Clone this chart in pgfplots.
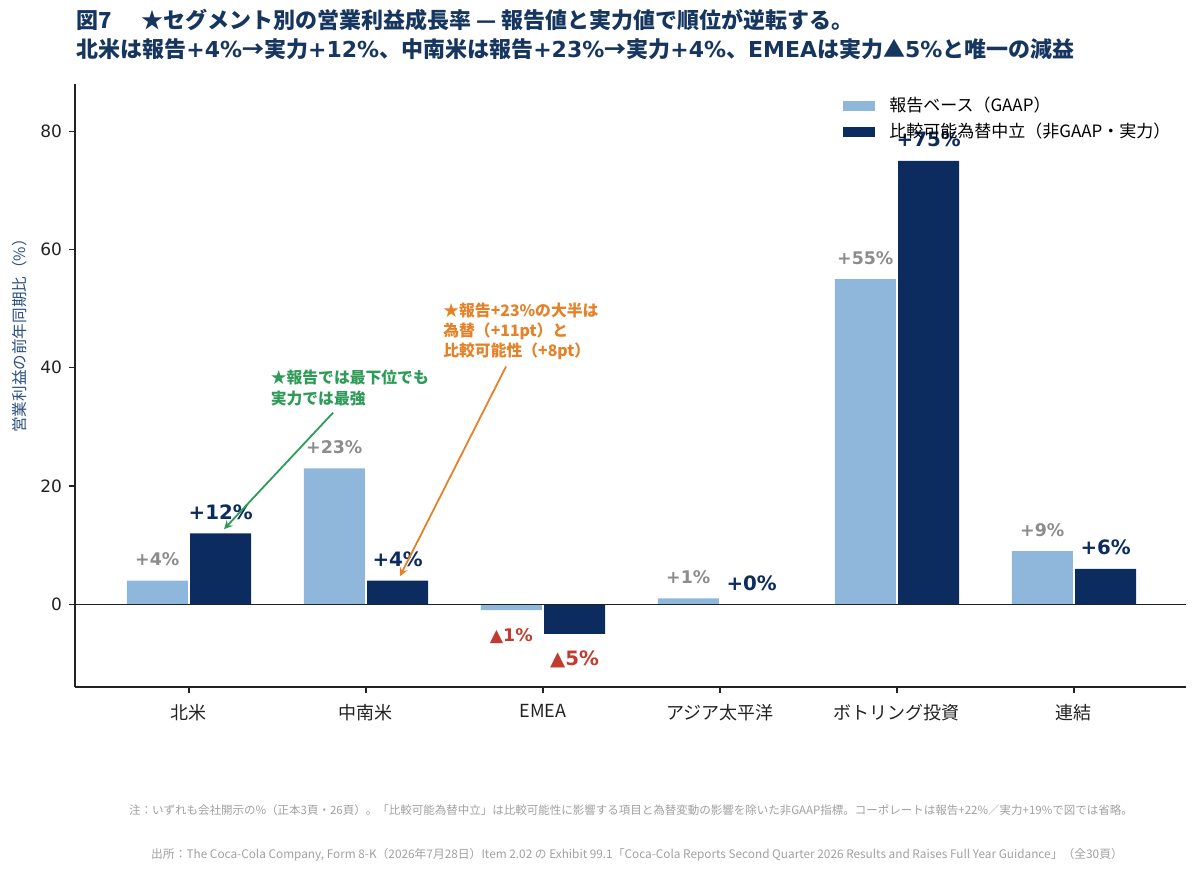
\documentclass[border=0pt]{standalone}
\usepackage{fontspec}
\setmainfont{Noto Sans CJK JP}
\newfontfamily\lat{DejaVu Sans}
\usepackage{pgfplots}
\pgfplotsset{compat=1.18}
\definecolor{lightb}{HTML}{8FB7DB}
\definecolor{darkb}{HTML}{0C2B5E}
\definecolor{grayc}{HTML}{8C8C8C}
\definecolor{titlec}{HTML}{16365F}
\definecolor{ylabc}{HTML}{2A4D7F}
\definecolor{greenc}{HTML}{2E9B58}
\definecolor{orangec}{HTML}{E4822A}
\definecolor{redc}{HTML}{C23B2E}
\definecolor{notec}{HTML}{A0A0A0}
\definecolor{axisc}{HTML}{222222}
\begin{document}
\begin{tikzpicture}
\useasboundingbox (0,0) rectangle (600pt,436.5pt);
\tikzset{
  lbgray/.style={font=\lat\bfseries\fontsize{8.7}{10}\selectfont, text=grayc, yshift=10.5pt},
  lbnavy/.style={font=\lat\bfseries\fontsize{9.9}{11}\selectfont, text=darkb, yshift=10.5pt},
  lbred1/.style={font=\lat\bfseries\fontsize{8.7}{10}\selectfont, text=redc, yshift=-13pt},
  lbred2/.style={font=\lat\bfseries\fontsize{9.9}{11}\selectfont, text=redc, yshift=-13pt},
}
\begin{axis}[
  at={(37.5pt,93pt)}, anchor=south west,
  scale only axis, width=555.5pt, height=301.5pt,
  xmin=-0.644, xmax=5.633, ymin=-14, ymax=88,
  axis x line*=bottom, axis y line*=left,
  axis line style={-, line width=0.75pt, color=axisc},
  tick align=outside, major tick length=3pt,
  tick style={line width=0.6pt, color=axisc},
  xtick={0,1,2,3,4,5},
  xticklabels={北米,中南米,EMEA,アジア太平洋,ボトリング投資,連結},
  xticklabel style={font=\fontsize{9}{10}\selectfont, text=axisc, yshift=-2pt},
  ytick={0,20,40,60,80},
  yticklabel style={font=\lat\fontsize{8.5}{10}\selectfont, text=axisc},
  /pgf/number format/assume math mode=true,
  legend style={at={(0.6913,0.985)}, anchor=north west, draw=none, fill=none,
    inner sep=0pt, row sep=0pt, font=\fontsize{8.5}{10}\selectfont},
  legend cell align=left,
  clip=false,
]
\addplot[ybar, bar width=0.345, bar shift=-0.179, fill=lightb, draw=none,
  legend image code/.code={\fill[lightb] (0pt,-2.5pt) rectangle (16pt,2.5pt); \path (21pt,0pt);}]
  coordinates {(0,4) (1,23) (2,-1) (3,1) (4,55) (5,9)};
\addplot[ybar, bar width=0.345, bar shift=0.179, fill=darkb, draw=none,
  legend image code/.code={\fill[darkb] (0pt,-2.5pt) rectangle (16pt,2.5pt); \path (21pt,0pt);}]
  coordinates {(0,12) (1,4) (2,-5) (3,0) (4,75) (5,6)};
\legend{報告ベース（GAAP）, 比較可能為替中立（非GAAP・実力）}
\draw[axisc, line width=0.6pt] (axis cs:-0.644,0) -- (axis cs:5.633,0);
% value labels
\node[lbgray] at (axis cs:-0.179,4) {+4\%};
\node[lbgray] at (axis cs:0.821,23) {+23\%};
\node[lbgray] at (axis cs:2.821,1) {+1\%};
\node[lbgray] at (axis cs:3.821,55) {+55\%};
\node[lbgray] at (axis cs:4.821,9) {+9\%};
\node[lbred1] at (axis cs:1.821,-1) {▲1\%};
\node[lbnavy] at (axis cs:0.179,12) {+12\%};
\node[lbnavy] at (axis cs:1.179,4) {+4\%};
\node[lbnavy] at (axis cs:3.179,0) {+0\%};
\node[lbnavy, yshift=0.5pt] at (axis cs:4.179,75) {+75\%};
\node[lbnavy] at (axis cs:5.179,6) {+6\%};
\node[lbred2] at (axis cs:2.179,-5) {▲5\%};
% annotations
\node[anchor=west, align=left, inner sep=0pt, text=greenc, font=\bfseries\fontsize{7.9}{10.5}\selectfont]
  at (axis cs:0.46,36.5) {★報告では最下位でも\\実力では最強};
\draw[greenc, line width=0.9pt, -stealth] (axis cs:0.814,32.4) -- (axis cs:0.198,12.7);
\node[anchor=west, align=left, inner sep=0pt, text=orangec, font=\bfseries\fontsize{7.9}{10}\selectfont]
  at (axis cs:1.435,46.1) {★報告+23\%の大半は\\為替（+11pt）と\\比較可能性（+8pt）};
\draw[orangec, line width=0.9pt, -stealth] (axis cs:1.791,40.2) -- (axis cs:1.192,4.75);
\end{axis}
% titles
\node[anchor=west, inner sep=0pt, text=titlec, font=\bfseries\fontsize{11}{12}\selectfont] at (38pt,426.5pt)
  {図7\hspace{15pt}★セグメント別の営業利益成長率 — 報告値と実力値で順位が逆転する。};
\node[anchor=west, inner sep=0pt, text=titlec, font=\bfseries\fontsize{11}{12}\selectfont] at (38pt,412pt)
  {北米は報告{\lat +4\%}→実力{\lat +12\%}、中南米は報告{\lat +23\%}→実力{\lat +4\%}、{\lat EMEA}は実力▲{\lat 5\%}と唯一の減益};
% y label
\node[rotate=90, text=ylabc, font=\fontsize{7.8}{9}\selectfont] at (10pt,270.5pt) {営業利益の前年同期比（\%）};
% footnotes
\node[text=notec, font=\fontsize{5.75}{7}\selectfont] at (315.5pt,31.5pt)
  {注：いずれも会社開示の\%（正本3頁・26頁）。「比較可能為替中立」は比較可能性に影響する項目と為替変動の影響を除いた非GAAP指標。コーポレートは報告+22\%／実力+19\%で図では省略。};
\node[text=notec, font=\fontsize{5.9}{7}\selectfont] at (318.5pt,9pt)
  {出所：The Coca-Cola Company, Form 8-K（2026年7月28日）Item 2.02 の Exhibit 99.1「Coca-Cola Reports Second Quarter 2026 Results and Raises Full Year Guidance」（全30頁）};
\end{tikzpicture}
\end{document}
